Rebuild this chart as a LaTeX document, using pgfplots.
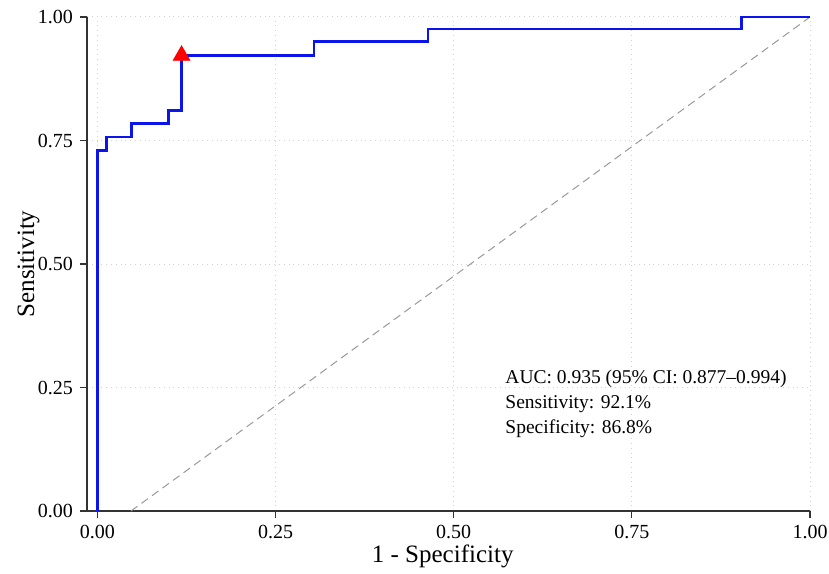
\documentclass[border=0pt]{standalone}
\usepackage{fontspec}
\setmainfont{Liberation Serif}
\usepackage{pgfplots}
\pgfplotsset{compat=1.18}
\definecolor{rocblue}{RGB}{10,20,235}
\begin{document}
\begin{tikzpicture}
\begin{axis}[name=ax, scale only axis, width=361.5pt, height=247pt,
  xmin=-0.0147, xmax=1, ymin=0, ymax=1,
  axis lines=left,
  axis line style={draw=black!80, line width=0.75pt, -},
  xtick={0,0.25,0.5,0.75,1}, ytick={0,0.25,0.5,0.75,1},
  xticklabels={0.00,0.25,0.50,0.75,1.00},
  yticklabels={0.00,0.25,0.50,0.75,1.00},
  tick style={draw=black!80, line width=0.6pt},
  tick align=outside, major tick length=3.5pt,
  grid=major, major grid style={draw=gray!35, dotted, line width=0.5pt},
  ticklabel style={font=\fontsize{10}{12}\selectfont},
  xlabel={1 - Specificity}, ylabel={Sensitivity},
  label style={font=\fontsize{12.5}{14}\selectfont},
  xlabel style={at={(axis description cs:0.492,-0.092)}, anchor=center},
  ylabel style={at={(axis description cs:-0.081,0.5)}, anchor=center},
  clip=false]
\addplot[gray!80, line width=0.5pt, dash pattern=on 4pt off 2.5pt] coordinates {(0.047,0) (1,1)};
\addplot[rocblue, line width=1.25pt] coordinates {
(0,0) (0,0.730) (0.013,0.730) (0.013,0.757) (0.048,0.757) (0.048,0.784)
(0.100,0.784) (0.100,0.811) (0.118,0.811) (0.118,0.922) (0.304,0.922)
(0.304,0.950) (0.464,0.950) (0.464,0.976) (0.904,0.976) (0.904,1) (1,1)};
\addplot[only marks, mark=triangle*, mark size=4.8pt, red, mark options={fill=red, draw=red}] coordinates {(0.118,0.922)};
\node[anchor=base west, inner sep=0, font=\fontsize{9.75}{12}\selectfont] at (axis cs:0.572,0.2576) {AUC: 0.935 (95\% CI: 0.877–0.994)};
\node[anchor=base west, inner sep=0, font=\fontsize{9.75}{12}\selectfont] at (axis cs:0.572,0.2069) {Sensitivity: 92.1\%};
\node[anchor=base west, inner sep=0, font=\fontsize{9.75}{12}\selectfont] at (axis cs:0.572,0.1562) {Specificity: 86.8\%};
\end{axis}
\pgfresetboundingbox
\path (ax.south west) ++(-43.5pt,-31pt) rectangle ++(414.5pt,286.5pt);
\end{tikzpicture}
\end{document}
